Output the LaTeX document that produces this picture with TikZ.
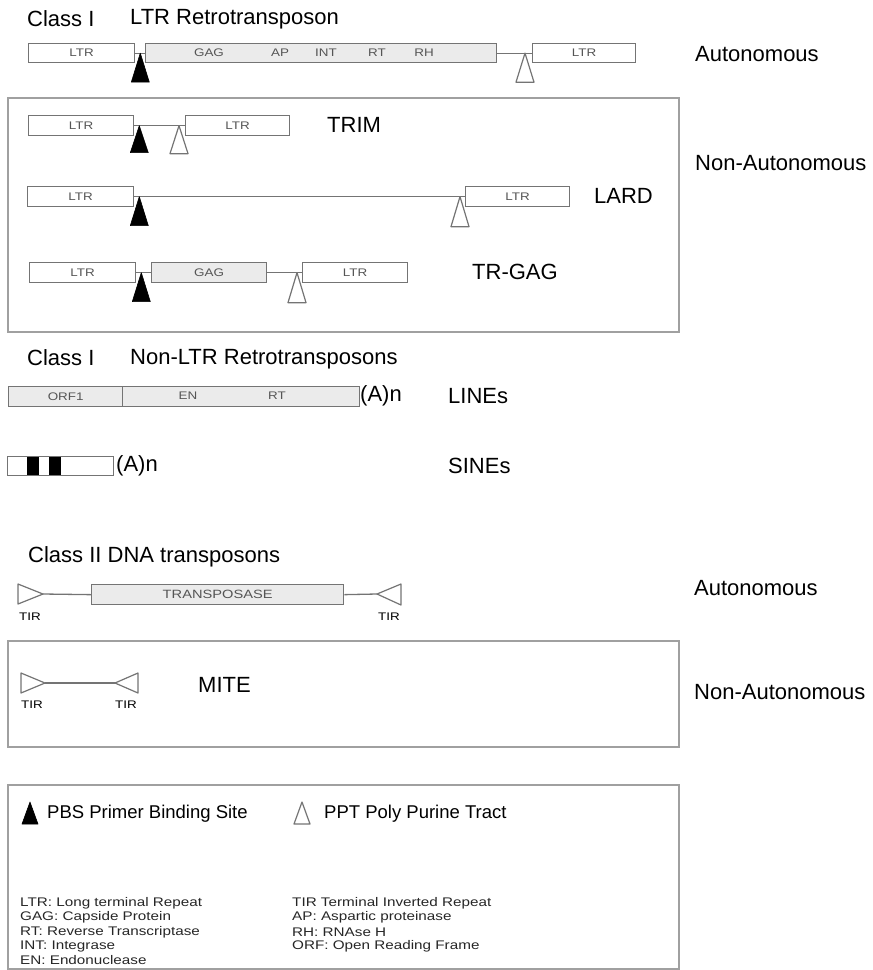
\documentclass[tikz,border=0pt]{standalone}
\usepackage{fontspec}
\setmainfont{Liberation Sans}
\usepackage{graphicx}
\usetikzlibrary{calc}
\definecolor{boxgray}{HTML}{747474}
\definecolor{framegray}{HTML}{A0A0A0}
\definecolor{lightfill}{HTML}{EBEBEB}
\definecolor{textgray}{HTML}{555555}
\newcommand\smtxt[2][11]{\scalebox{1.22}[1]{\fontsize{#1}{#1}\selectfont #2}}
\begin{document}
\begin{tikzpicture}[x=1pt,y=-1pt,
  sz/.style 2 args={minimum width=#1pt, minimum height=#2pt},
  seg/.style={draw=boxgray, line width=1.3pt, fill=white, inner sep=0pt, anchor=north west, text=textgray},
  gseg/.style={seg, fill=lightfill},
  framebox/.style={draw=framegray, line width=1.6pt, inner sep=0pt, anchor=north west},
  link/.style={draw=boxgray, line width=1.3pt},
  pbs/.style={fill=black, draw=black, line width=0.6pt, line join=round},
  ppt/.style={fill=white, draw=boxgray, line width=1.2pt, line join=round},
  big/.style={font=\fontsize{22}{24}\selectfont, inner sep=0pt, anchor=west},
  leg/.style={font=\fontsize{18.5}{20}\selectfont, inner sep=0pt, anchor=west},
  intxt/.style={inner sep=0pt, text=textgray},
  abbr/.style={inner sep=0pt, anchor=west, text=black!85}
]
\useasboundingbox (0,0) rectangle (873,970);

% ---------- Class I LTR ----------
\node[big] (h1a) at (27,19) {Class I};
\node[big] (h1b) at (130,19) {LTR Retrotransposon};

\node[seg, sz={106}{19}] (a1) at (28,43) {\smtxt{LTR}};
\node[gseg, sz={351}{19}] (a2) at (145,43) {};
\node[seg, sz={103}{19}] (a3) at (532,43) {\smtxt{LTR}};
\node[intxt] (ag) at (209,52.5) {\smtxt{GAG}};
\node[intxt] (aap) at (280,52.5) {\smtxt{AP}};
\node[intxt] (aint) at (326,52.5) {\smtxt{INT}};
\node[intxt] (art) at (377,52.5) {\smtxt{RT}};
\node[intxt] (arh) at (424,52.5) {\smtxt{RH}};
\draw[link] (a1.east) -- (a2.west);
\draw[link] (a2.east) -- (a3.west);
\draw[pbs] ($(a1.east)+(5,0)$) -- ++(9,29) -- ++(-18,0) -- cycle;
\draw[ppt] ($(a3.west)+(-7,0)$) -- ++(9,29) -- ++(-18,0) -- cycle;
\node[big] (auto1) at (695,54) {Autonomous};

% ---------- Non-autonomous LTR box ----------
\node[framebox, sz={671}{234}] (f1) at (7,97) {};
\node[big] (nauto1) at (695,163) {Non-Autonomous};

% TRIM
\node[seg, sz={105}{20}] (t1) at (28,115) {\smtxt{LTR}};
\node[seg, sz={104}{20}] (t2) at (185,115) {\smtxt{LTR}};
\draw[link] (t1.east) -- (t2.west);
\draw[pbs] ($(t1.east)+(5,0)$) -- ++(9,27) -- ++(-18,0) -- cycle;
\draw[ppt] ($(t2.west)+(-6,0)$) -- ++(9,28) -- ++(-18,0) -- cycle;
\node[big] (trim) at (327,125) {TRIM};

% LARD
\node[seg, sz={106}{20}] (l1) at (27,186) {\smtxt{LTR}};
\node[seg, sz={104}{20}] (l2) at (465,186) {\smtxt{LTR}};
\draw[link] (l1.east) -- (l2.west);
\draw[pbs] ($(l1.east)+(5,0)$) -- ++(9,29) -- ++(-18,0) -- cycle;
\draw[ppt] ($(l2.west)+(-5,0)$) -- ++(9,30) -- ++(-18,0) -- cycle;
\node[big] (lard) at (594,196) {LARD};

% TR-GAG
\node[seg, sz={106}{20}] (g1) at (29,262) {\smtxt{LTR}};
\node[gseg, sz={115}{20}] (g2) at (151,262) {\smtxt{GAG}};
\node[seg, sz={105}{20}] (g3) at (302,262) {\smtxt{LTR}};
\draw[link] (g1.east) -- (g2.west);
\draw[link] (g2.east) -- (g3.west);
\draw[pbs] ($(g1.east)+(5,0)$) -- ++(9,29) -- ++(-18,0) -- cycle;
\draw[ppt] ($(g3.west)+(-5,0)$) -- ++(9,30) -- ++(-18,0) -- cycle;
\node[big] (trgag) at (472,272) {TR-GAG};

% ---------- Class I Non-LTR ----------
\node[big] (h2a) at (27,358) {Class I};
\node[big] (h2b) at (130,359) {Non-LTR Retrotransposons};

\node[gseg, sz={114}{20}] (orf) at (8,386) {\smtxt{ORF1}};
\node[gseg, sz={237}{20}] (enrt) at (122,386) {};
\node[intxt] (en) at (188,396) {\smtxt{EN}};
\node[intxt] (rt2) at (277,396) {\smtxt{RT}};
\node[big] (an1) at (360,396) {(A)n};
\node[big] (lines) at (448,396) {LINEs};

\node[seg, sz={106}{19}] (sb) at (7,456) {};
\node[seg, fill=black, draw=black, line width=0.4pt, sz={11}{17}] (sb1) at (27,457) {};
\node[seg, fill=black, draw=black, line width=0.4pt, sz={11}{17}] (sb2) at (48.5,457) {};
\node[big] (an2) at (116,466) {(A)n};
\node[big] (sines) at (448,466) {SINEs};

% ---------- Class II ----------
\node[big] (h3) at (28,557) {Class II DNA transposons};
\node[gseg, sz={252}{20}] (tp) at (91,584) {\smtxt[12]{TRANSPOSASE}};
\coordinate (tL) at (43,594);
\coordinate (tR) at (377,594);
\draw[link] (tL) -- (tp.west);
\draw[link] (tp.east) -- (tR);
\draw[ppt] (tL) -- ++(-25,-10) -- ++(0,20) -- cycle;
\draw[ppt] (tR) -- ++(24,-10) -- ++(0,21) -- cycle;
\node[inner sep=0pt] (tirL) at (30,617) {\smtxt{TIR}};
\node[inner sep=0pt] (tirR) at (389,617) {\smtxt{TIR}};
\node[big] (auto2) at (694,588) {Autonomous};

\node[framebox, sz={671}{106}] (f2) at (7,640) {};
\coordinate (mL) at (45,683);
\coordinate (mR) at (115,683);
\draw[link] (mL) -- (mR);
\draw[ppt] (mL) -- ++(-24,-10) -- ++(0,20) -- cycle;
\draw[ppt] (mR) -- ++(23,-10) -- ++(0,20) -- cycle;
\node[inner sep=0pt] (mtirL) at (32,705) {\smtxt{TIR}};
\node[inner sep=0pt] (mtirR) at (126,705) {\smtxt{TIR}};
\node[big] (mite) at (198,685) {MITE};
\node[big] (nauto2) at (694,692) {Non-Autonomous};

% ---------- Legend ----------
\node[framebox, sz={671}{184}] (f3) at (7,784) {};
\coordinate (lpbs) at (30,802);
\draw[pbs] (lpbs) -- ++(8,22) -- ++(-16,0) -- cycle;
\node[leg] (lpbst) at (47,814) {PBS Primer Binding Site};
\coordinate (lppt) at (302,802);
\draw[ppt] (lppt) -- ++(8,22) -- ++(-16,0) -- cycle;
\node[leg] (lpptt) at (324,814) {PPT Poly Purine Tract};

\node[abbr] (ab1) at (20,903) {\smtxt[12.5]{LTR: Long terminal Repeat}};
\node[abbr] (ab2) at (20,917.5) {\smtxt[12.5]{GAG: Capside Protein}};
\node[abbr] (ab3) at (20,932) {\smtxt[12.5]{RT: Reverse Transcriptase}};
\node[abbr] (ab4) at (20,946) {\smtxt[12.5]{INT: Integrase}};
\node[abbr] (ab5) at (20,960) {\smtxt[12.5]{EN: Endonuclease}};
\node[abbr] (ab6) at (292,903) {\smtxt[12.5]{TIR Terminal Inverted Repeat}};
\node[abbr] (ab7) at (292,917.5) {\smtxt[12.5]{AP: Aspartic proteinase}};
\node[abbr] (ab8) at (292,932) {\smtxt[12.5]{RH: RNAse H}};
\node[abbr] (ab9) at (292,946) {\smtxt[12.5]{ORF: Open Reading Frame}};
\end{tikzpicture}
\end{document}
